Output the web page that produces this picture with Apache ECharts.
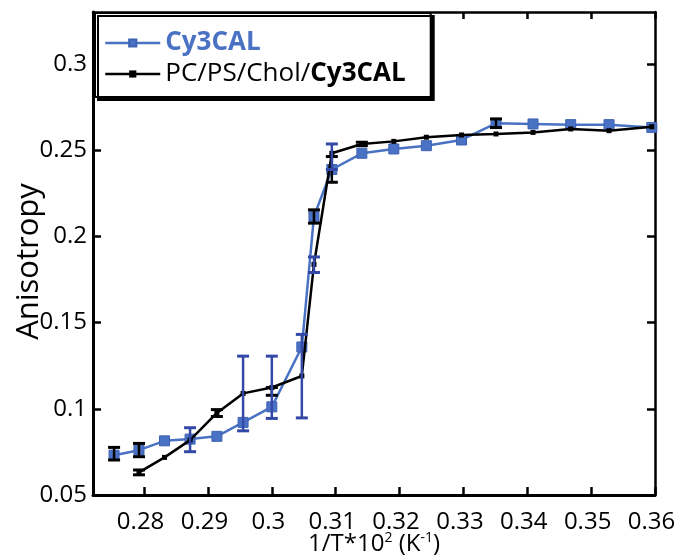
<!DOCTYPE html>
<html>
<head>
<meta charset="utf-8">
<script src="https://cdn.jsdelivr.net/npm/echarts@6/dist/echarts.min.js"></script>
<style>
html,body{margin:0;padding:0;background:#fff;}
#chart{width:676px;height:559px;}
</style>
</head>
<body>
<div id="chart"></div>
<script>
// ---- data ----
const xTicks = [0.28, 0.29, 0.30, 0.31, 0.32, 0.33, 0.34, 0.35, 0.36];
const yTicks = [0.05, 0.10, 0.15, 0.20, 0.25, 0.30];

const seriesNames = ['Cy3CAL', 'PC/PS/Chol/Cy3CAL'];

// Cy3CAL (blue)
const blueX = [0.2753, 0.2792, 0.2832, 0.2872, 0.2914, 0.2955, 0.3000, 0.3047, 0.3066, 0.3094, 0.3141, 0.3191, 0.3242, 0.3297, 0.3351, 0.3409, 0.3468, 0.3528, 0.3595];
const blueY = [0.0731, 0.0760, 0.0814, 0.0824, 0.0840, 0.0921, 0.1011, 0.1358, 0.2115, 0.2387, 0.2481, 0.2506, 0.2525, 0.2558, 0.2655, 0.2651, 0.2647, 0.2647, 0.2631];

// PC/PS/Chol/Cy3CAL (black)
const blackX = [0.2792, 0.2832, 0.2872, 0.2914, 0.2955, 0.3000, 0.3047, 0.3066, 0.3094, 0.3141, 0.3191, 0.3242, 0.3297, 0.3351, 0.3409, 0.3468, 0.3528, 0.3595];
const blackY = [0.0631, 0.0718, 0.0818, 0.0976, 0.1089, 0.1123, 0.1190, 0.1837, 0.2481, 0.2535, 0.2550, 0.2574, 0.2587, 0.2593, 0.2602, 0.2622, 0.2612, 0.2635];

// error bars drawn in blue: x, low, high
const blueErrX  = [0.2872, 0.2955, 0.3000, 0.3047, 0.3066, 0.3094];
const blueErrLo = [0.0751, 0.0872, 0.0944, 0.0947, 0.1790, 0.2387];
const blueErrHi = [0.0890, 0.1305, 0.1305, 0.1431, 0.1880, 0.2535];

// error bars drawn in black: x, low, high
const blackErrX  = [0.2753, 0.2792, 0.2792, 0.2914, 0.3000, 0.3066, 0.3094, 0.3141, 0.3351];
const blackErrLo = [0.0703, 0.0722, 0.0617, 0.0955, 0.1078, 0.2076, 0.2313, 0.2525, 0.2630];
const blackErrHi = [0.0776, 0.0799, 0.0645, 0.0995, 0.1123, 0.2153, 0.2462, 0.2545, 0.2680];

// ---- chart ----
const BLUE = '#4a72c4';
const BLUE_ERR = '#3448a8';
const FONT = 'Open Sans';

const zip = (xs, ys) => xs.map((x, i) => [x, ys[i]]);
const zip3 = (xs, lo, hi) => xs.map((x, i) => [x, lo[i], hi[i]]);

function errRender(color) {
  return function (params, api) {
    const x = api.value(0);
    const p1 = api.coord([x, api.value(1)]);
    const p2 = api.coord([x, api.value(2)]);
    const w = 6;
    return {
      type: 'group',
      children: [
        { type: 'line', shape: { x1: p1[0], y1: p1[1], x2: p2[0], y2: p2[1] }, style: { stroke: color, lineWidth: 2.5 } },
        { type: 'line', shape: { x1: p1[0] - w, y1: p1[1], x2: p1[0] + w, y2: p1[1] }, style: { stroke: color, lineWidth: 3 } },
        { type: 'line', shape: { x1: p2[0] - w, y1: p2[1], x2: p2[0] + w, y2: p2[1] }, style: { stroke: color, lineWidth: 3 } }
      ]
    };
  };
}

const chart = echarts.init(document.getElementById('chart'), null, { renderer: 'canvas' });

const TICK_FONT = 24;

chart.setOption({
  animation: false,
  backgroundColor: '#fff',
  textStyle: { fontFamily: FONT },
  grid: { left: 93, right: 21, top: 12, bottom: 64, containLabel: false, outerBoundsMode: 'none' },
  legend: {
    show: true,
    orient: 'vertical',
    left: 95,
    top: 13,
    itemWidth: 55,
    itemHeight: 9,
    itemGap: 5,
    padding: [17, 25, 10, 9],
    backgroundColor: '#fff',
    borderColor: '#000',
    borderWidth: 2,
    shadowColor: '#000',
    shadowOffsetX: 3,
    shadowOffsetY: 3,
    shadowBlur: 0,
    lineStyle: { width: 2.5 },
    data: seriesNames,
    formatter: function (name) {
      if (name === seriesNames[0]) return '{b|' + name + '}';
      const idx = name.lastIndexOf('/') + 1;
      return '{n|' + name.slice(0, idx) + '}{k|' + name.slice(idx) + '}';
    },
    textStyle: {
      fontFamily: FONT,
      rich: {
        b: { color: BLUE, fontWeight: 'bold', fontSize: 26, fontFamily: FONT, lineHeight: 22 },
        n: { color: '#000', fontSize: 26, fontFamily: FONT, lineHeight: 22 },
        k: { color: '#000', fontWeight: 'bold', fontSize: 26, fontFamily: FONT, lineHeight: 22 }
      }
    }
  },
  xAxis: [
    {
      type: 'value', position: 'bottom', min: 0.272, max: 0.36, interval: 0.01,
      name: '1/T*10{sup|2} (K{sup|-1})',
      nameLocation: 'middle', nameGap: 36, nameMoveOverlap: false,
      nameTextStyle: {
        fontFamily: FONT, fontSize: 24, color: '#000',
        rich: { sup: { fontFamily: FONT, fontSize: 14, color: '#000', verticalAlign: 'top', padding: [0, 0, 12, 0] } }
      },
      axisLine: { show: true, onZero: false, lineStyle: { color: '#000', width: 3 } },
      axisLabel: {
        fontFamily: FONT, fontSize: TICK_FONT, color: '#000', margin: 15,
        padding: [0, 7, 0, 0],
        customValues: xTicks,
        formatter: v => String(+v.toFixed(2))
      },
      axisTick: { show: true, inside: true, length: 8, customValues: xTicks, lineStyle: { color: '#000', width: 2.5 } },
      splitLine: { show: false }
    },
    {
      type: 'value', position: 'top', min: 0.272, max: 0.36, interval: 0.01,
      axisLine: { show: true, onZero: false, lineStyle: { color: '#000', width: 2.5 } },
      axisTick: { show: true, inside: true, length: 7, customValues: xTicks, lineStyle: { color: '#000', width: 2.5 } },
      axisLabel: { show: false },
      splitLine: { show: false }
    }
  ],
  yAxis: [
    {
      type: 'value', position: 'left', min: 0.05, max: 0.33, interval: 0.05,
      name: 'Anisotropy',
      nameLocation: 'middle', nameGap: 48, nameMoveOverlap: false,
      nameTextStyle: { fontFamily: FONT, fontSize: 31, color: '#000', padding: [0, 16, 0, 0] },
      axisLine: { show: true, onZero: false, lineStyle: { color: '#000', width: 3 } },
      axisLabel: {
        fontFamily: FONT, fontSize: TICK_FONT, color: '#000', margin: 6,
        customValues: yTicks,
        formatter: v => String(+v.toFixed(2))
      },
      axisTick: { show: true, inside: true, length: 8, customValues: yTicks, lineStyle: { color: '#000', width: 2.5 } },
      splitLine: { show: false }
    },
    {
      type: 'value', position: 'right', min: 0.05, max: 0.33, interval: 0.05,
      axisLine: { show: true, onZero: false, lineStyle: { color: '#000', width: 2.5 } },
      axisTick: { show: true, inside: true, length: 8, customValues: yTicks, lineStyle: { color: '#000', width: 2.5 } },
      axisLabel: { show: false },
      splitLine: { show: false }
    }
  ],
  series: [
    {
      name: seriesNames[0], type: 'line', xAxisIndex: 0, yAxisIndex: 0,
      data: zip(blueX, blueY),
      symbol: 'rect', symbolSize: 10,
      lineStyle: { color: BLUE, width: 2.5 },
      itemStyle: { color: BLUE, borderColor: '#3d62b3', borderWidth: 1 },
      z: 3
    },
    {
      name: seriesNames[1], type: 'line', xAxisIndex: 0, yAxisIndex: 0,
      data: zip(blackX, blackY),
      symbol: 'rect', symbolSize: 5,
      lineStyle: { color: '#000', width: 2.5 },
      itemStyle: { color: '#000' },
      z: 4
    },
    {
      type: 'custom', xAxisIndex: 0, yAxisIndex: 0,
      data: zip3(blackErrX, blackErrLo, blackErrHi),
      renderItem: errRender('#000'),
      encode: { x: 0, y: [1, 2] },
      silent: true, z: 5
    },
    {
      type: 'custom', xAxisIndex: 0, yAxisIndex: 0,
      data: zip3(blueErrX, blueErrLo, blueErrHi),
      renderItem: errRender(BLUE_ERR),
      encode: { x: 0, y: [1, 2] },
      silent: true, z: 5
    }
  ]
});
</script>
</body>
</html>
